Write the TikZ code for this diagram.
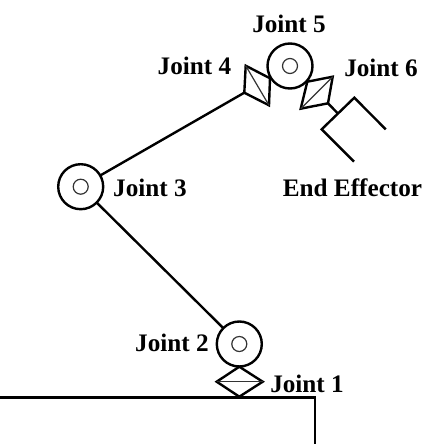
\documentclass[tikz,border=0pt]{standalone}
\usepackage{fontspec}
\setmainfont{Liberation Serif}
\usetikzlibrary{calc}
\tikzset{
  x=1pt,y=-1pt,
  heavy/.style={draw=black,line width=2.4pt,line join=miter},
  thin line/.style={draw=black!80,line width=1.2pt},
  outerjoint/.style={circle,draw=black,line width=2.4pt,minimum size=45pt,inner sep=0pt,outer sep=0pt},
  innerjoint/.style={circle,draw=black!80,line width=1.2pt,minimum size=15pt,inner sep=0pt},
  lbl/.style={font=\bfseries\fontsize{25.2}{26}\selectfont,inner sep=0pt,text=black}
}
\begin{document}
\begin{tikzpicture}
\useasboundingbox (0,0) rectangle (427,444);
% rotary joints
\node[outerjoint] (j5) at (290,66) {};
\node[innerjoint] (j5i) at (290,66) {};
\node[outerjoint] (j3) at (80.7,186.7) {};
\node[innerjoint] (j3i) at (80.7,186.7) {};
\node[outerjoint] (j2) at (239.3,344) {};
\node[innerjoint] (j2i) at (239.3,344) {};
% joint 4 box
\coordinate (a1) at (245.7,65.7);
\coordinate (a2) at (270,78.3);
\coordinate (a3) at (269,105.3);
\coordinate (a4) at (244.3,92.7);
\draw[heavy] (a1) -- (a2) -- (a3) -- (a4) -- cycle;
\draw[thin line] (a1) -- (a3);
% joint 6 box
\coordinate (b1) at (307.3,81.7);
\coordinate (b2) at (332.7,76.7);
\coordinate (b3) at (328,103.3);
\coordinate (b4) at (300.7,108.7);
\draw[heavy] (b1) -- (b2) -- (b3) -- (b4) -- cycle;
\draw[thin line] (b2) -- (b4);
% joint 1 diamond
\coordinate (d1) at (239.3,366.7);
\coordinate (d2) at (262.7,381.7);
\coordinate (d3) at (239.3,396.7);
\coordinate (d4) at (216.7,381.7);
\draw[heavy] (d1) -- (d2) -- (d3) -- (d4) -- cycle;
\draw[thin line] (d4) -- (d2);
% links
\draw[heavy] (j3) -- (a4);
\draw[heavy] (j3) -- (j2);
% gripper
\coordinate (g0) at (337.7,113.3);
\coordinate (g1) at (385.7,129.3);
\coordinate (g2) at (354.3,97.7);
\coordinate (g3) at (321.7,129.3);
\coordinate (g4) at (354,161.7);
\draw[heavy] (b3) -- (g0);
\draw[heavy] (g1) -- (g2) -- (g3) -- (g4);
% ground
\coordinate (p1) at (0,397.3);
\coordinate (p2) at (315,397.3);
\coordinate (p3) at (315,444);
\draw[heavy] (p1) -- (p2) -- (p3);
% labels
\node[lbl] (l5) at (289,23.5) {Joint 5};
\node[lbl] (l4) at (194.5,66) {Joint 4};
\node[lbl] (l6) at (381,68) {Joint 6};
\node[lbl] (l3) at (150,188) {Joint 3};
\node[lbl] (le) at (352.5,188) {End Effector};
\node[lbl] (l2) at (172,343) {Joint 2};
\node[lbl] (l1) at (307,384) {Joint 1};
\end{tikzpicture}
\end{document}
